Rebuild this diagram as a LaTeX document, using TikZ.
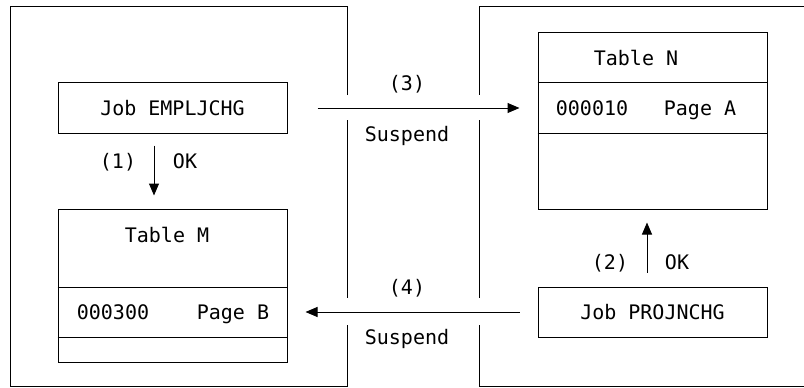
\documentclass[tikz,border=0pt]{standalone}
\usepackage{fontspec}
\setmainfont{DejaVu Sans Mono}
\usetikzlibrary{arrows.meta}
\begin{document}
\begin{tikzpicture}[x=1pt,y=-1pt,
  ln/.style={line width=1pt},
  box/.style={draw,line width=1pt,rectangle,inner sep=0pt},
  txt/.style={inner sep=0pt,text height=14.6pt,text depth=0pt,font=\fontsize{20}{24}\selectfont},
  arr/.style={line width=1pt,-{Triangle[length=12pt,width=10pt]}}]
\useasboundingbox (0,0) rectangle (804,388);
% outer frames
\draw[ln] (347,95) -- (347,6) -- (10,6) -- (10,386) -- (347,386) -- (347,325);
\draw[ln] (347,120) -- (347,298);
\draw[ln] (804,6) -- (479,6) -- (479,95);
\draw[ln] (479,120) -- (479,298);
\draw[ln] (479,325) -- (479,386) -- (804,386);
% boxes
\node[box,minimum width=229pt,minimum height=51pt] (job1) at (172.5,107.5) {};
\node[txt] (job1t) at (172.5,108) {Job EMPLJCHG};
\node[box,minimum width=229pt,minimum height=153pt] (tabM) at (172.5,285.5) {};
\draw[ln] (tabM.west |- 0,287) -- (tabM.east |- 0,287);
\draw[ln] (tabM.west |- 0,337) -- (tabM.east |- 0,337);
\node[txt] (tabMt) at (167,235) {Table M};
\node[txt] (rowM1) at (113,312) {000300};
\node[txt] (rowM2) at (233,312) {Page B};
\node[box,minimum width=229pt,minimum height=177pt] (tabN) at (652.5,120.5) {};
\draw[ln] (tabN.west |- 0,82) -- (tabN.east |- 0,82);
\draw[ln] (tabN.west |- 0,133) -- (tabN.east |- 0,133);
\node[txt] (tabNt) at (636,58) {Table N};
\node[txt] (rowN1) at (592,108) {000010};
\node[txt] (rowN2) at (700,108) {Page A};
\node[box,minimum width=229pt,minimum height=50pt] (job2) at (652.5,312) {};
\node[txt] (job2t) at (652.5,312) {Job PROJNCHG};
% arrows
\draw[arr] ([shift={(-18.5,12)}]job1.south) -- ([shift={(-18.5,-13)}]tabM.north);
\draw[arr] ([shift={(-5.5,-14)}]job2.north) -- ([shift={(-5.5,13)}]tabN.south);
\draw[arr] ([shift={(30,0.5)}]job1.east) -- ([shift={(-18,0.5)}]tabN.west |- job1.east);
\draw[arr] ([shift={(-18,0)}]job2.west) -- ([shift={(18,0)}]tabM.east |- job2.west);
% labels
\node[txt] (l1) at (118,161) {(1)};
\node[txt] (ok1) at (185,161) {OK};
\node[txt] (l2) at (610,262) {(2)};
\node[txt] (ok2) at (677,262) {OK};
\node[txt] (l3) at (407,83) {(3)};
\node[txt] (s3) at (407,134) {Suspend};
\node[txt] (l4) at (407,287) {(4)};
\node[txt] (s4) at (407,337) {Suspend};
\end{tikzpicture}
\end{document}
